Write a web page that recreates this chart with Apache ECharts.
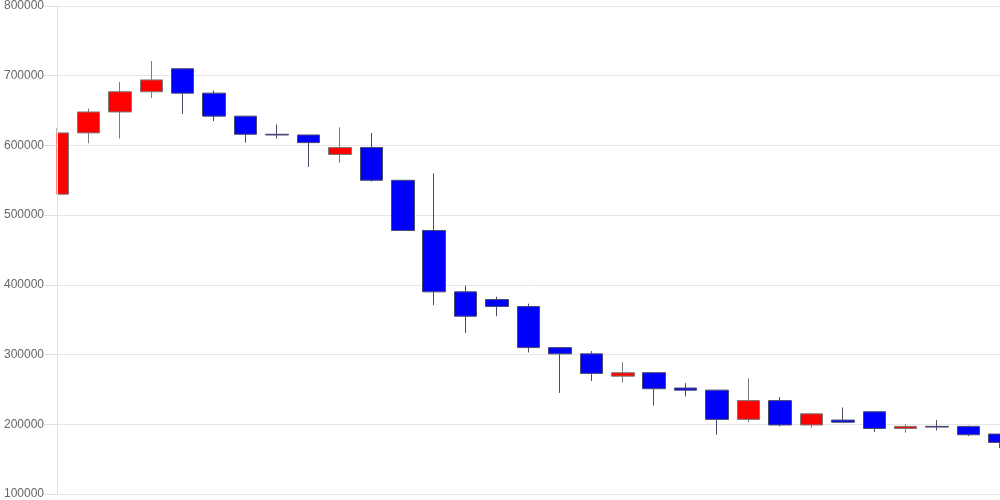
<!DOCTYPE html>
<html><head><meta charset="utf-8">
<script src="https://cdn.jsdelivr.net/npm/echarts@6/dist/echarts.min.js"></script>
<style>html,body{margin:0;padding:0;background:#fff}#c{width:1000px;height:500px}</style>
</head><body><div id="c"></div>
<script>
const categories = ['1','2','3','4','5','6','7','8','9','10','11','12','13','14','15','16','17','18','19','20','21','22','23','24','25','26','27','28','29','30','31'];
const opens  = [530000,618000,648000,677000,710000,675000,642000,616000,615000,587000,597000,550000,478000,390000,379000,369000,310000,301000,269000,274000,252000,249000,207000,234000,199000,206000,218000,194000,197000,197000,186000];
const closes = [618000,648000,677000,694000,675000,642000,616000,615000,604000,597000,550000,478000,390000,355000,369000,310000,301000,273000,274000,251000,249000,207000,234000,199000,215000,203000,194000,197000,196000,185000,174000];
const lows   = [530000,603000,610000,668000,645000,635000,604000,610000,569000,575000,548000,478000,371000,331000,355000,303000,245000,262000,260000,227000,240000,185000,203000,197000,195000,203000,189000,188000,191000,183000,166000];
const highs  = [625000,653000,691000,721000,711000,679000,642000,630000,615000,626000,618000,550000,560000,399000,383000,373000,310000,305000,289000,274000,259000,249000,266000,239000,216000,224000,218000,200000,206000,198000,186000];
const yTicks = [100000,200000,300000,400000,500000,600000,700000,800000];

const data = categories.map((c,i)=>[opens[i],closes[i],lows[i],highs[i]]);
const yMin = yTicks[0], yMax = yTicks[yTicks.length-1];
const chart = echarts.init(document.getElementById('c'));
chart.setOption({
  animation:false,
  grid:{left:57,right:0,top:6,bottom:6},
  graphic:[{type:'rect',z:5,shape:{x:0,y:0,width:56.5,height:500},style:{fill:'#ffffff'}}],
  xAxis:{type:'category',data:categories,boundaryGap:false,
    axisLine:{show:false},axisTick:{show:false},axisLabel:{show:false},splitLine:{show:false}},
  yAxis:[
    {type:'value',position:'left',offset:0,z:0,min:yMin,max:yMax,interval:100000,
      axisLine:{show:false},axisTick:{show:false},axisLabel:{show:false},
      splitLine:{lineStyle:{color:'#e6e6e6'}}},
    {type:'value',position:'left',offset:0,z:10,min:yMin,max:yMax,interval:100000,
      axisLine:{show:true,lineStyle:{color:'#e0e0e0'}},
      axisTick:{show:true,length:13,lineStyle:{color:'#e0e0e0'}},
      axisLabel:{margin:13,color:'#666',fontFamily:'Liberation Sans, Arial',fontSize:12,formatter:v=>String(v)},
      splitLine:{show:false}}
  ],
  series:[{type:'candlestick',yAxisIndex:0,z:2,data:data,barWidth:23,clip:true,
    itemStyle:{color:'#ff0000',color0:'#0000ff',borderColor:'#7a7a7a',borderColor0:'#4a4a6e',borderWidth:1}}]
});
</script></body></html>
